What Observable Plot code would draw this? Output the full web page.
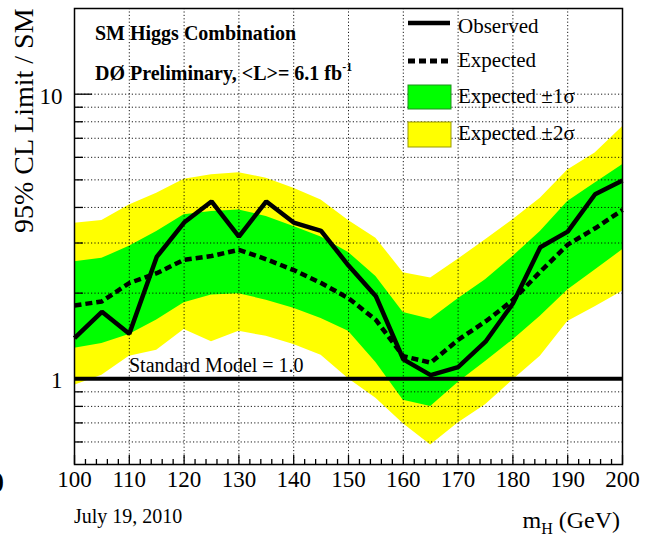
<!DOCTYPE html>
<html>
<head>
<meta charset="utf-8">
<script src="https://cdn.jsdelivr.net/npm/d3@7"></script>
<script src="https://cdn.jsdelivr.net/npm/@observablehq/plot@0.6"></script>
<style>
  html, body { margin: 0; padding: 0; background: #fff; }
  #chart { width: 648px; height: 537px; overflow: hidden; }
</style>
</head>
<body>
<div id="chart"></div>
<script>
// ---- data ----
const masses   = [100,105,110,115,120,125,130,135,140,145,150,155,160,165,170,175,180,185,190,195,200];
const observed = [1.39,1.72,1.44,2.68,3.54,4.20,3.16,4.20,3.54,3.31,2.50,1.95,1.17,1.03,1.10,1.35,1.84,2.90,3.29,4.45,4.97];
const expected = [1.81,1.87,2.17,2.35,2.62,2.70,2.84,2.63,2.41,2.17,1.92,1.61,1.20,1.14,1.37,1.59,1.89,2.38,2.96,3.38,3.92];
const plus1    = [2.58,2.65,2.92,3.29,3.77,3.87,3.92,3.72,3.43,3.15,2.78,2.29,1.71,1.62,1.91,2.23,2.69,3.29,4.20,4.87,5.65];
const minus1   = [1.28,1.33,1.43,1.61,1.85,1.97,1.99,1.89,1.77,1.63,1.47,1.14,0.84,0.80,0.97,1.15,1.37,1.66,2.05,2.41,2.84];
const plus2    = [3.52,3.60,4.08,4.49,5.03,5.21,5.30,5.07,4.67,4.25,3.60,3.12,2.36,2.26,2.63,3.08,3.62,4.31,5.42,6.21,7.68];
const minus2   = [0.95,1.03,1.20,1.26,1.49,1.35,1.47,1.41,1.32,1.21,1.00,0.855,0.695,0.586,0.70,0.81,0.99,1.20,1.59,1.79,2.03];

const xTickLabels = [100,110,120,130,140,150,160,170,180,190,200];
const yTickLabels = [1, 10];
const yGridValues = [0.6,0.7,0.8,0.9,2,3,4,5,6,7,8,9,10];
const smValue = 1;

const legendItems = ["Observed", "Expected", "Expected \u00b11\u03c3", "Expected \u00b12\u03c3"];

// ---- build ----
const rows = masses.map((m, i) => ({m, obs: observed[i], exp: expected[i], p1: plus1[i], m1: minus1[i], p2: plus2[i], m2: minus2[i]}));

const W = 648, H = 537, mL = 74, mR = 26, mT = 8, mB = 73;
const pw = W - mL - mR, ph = H - mT - mB;
const serif = "'Liberation Serif', 'DejaVu Serif', serif";

const minorX = d3.range(100, 201, 2).filter(v => v % 10 !== 0);
const minorY = yGridValues.filter(v => !yTickLabels.includes(v));

const chart = Plot.plot({
  width: W, height: H,
  marginLeft: mL, marginRight: mR, marginTop: mT, marginBottom: mB,
  style: {fontFamily: serif, background: "white", color: "black", overflow: "visible"},
  x: {domain: [100, 200], axis: null},
  y: {type: "log", domain: [0.5, 20], axis: null},
  marks: [
    Plot.areaY(rows, {x: "m", y1: "m2", y2: "p2", fill: "#ffff00"}),
    Plot.areaY(rows, {x: "m", y1: "m1", y2: "p1", fill: "#00ff00"}),
    Plot.ruleX(xTickLabels.slice(1, -1), {x: d => d, stroke: "#000", strokeWidth: 1, strokeDasharray: "1.2,2.2", strokeOpacity: 0.9}),
    Plot.ruleY(yGridValues, {y: d => d, stroke: "#000", strokeWidth: 1, strokeDasharray: "1.2,2.2", strokeOpacity: 0.9}),
    Plot.ruleY([smValue], {y: d => d, stroke: "#000", strokeWidth: 4}),
    Plot.line(rows, {x: "m", y: "exp", stroke: "#000", strokeWidth: 4.5, strokeDasharray: "7,4", strokeLinecap: "butt", strokeLinejoin: "miter"}),
    Plot.line(rows, {x: "m", y: "obs", stroke: "#000", strokeWidth: 4.5, strokeLinecap: "butt", strokeLinejoin: "miter"}),
    Plot.frame({stroke: "#000", strokeWidth: 1.5}),
    Plot.tickX(xTickLabels, {x: d => d, insetTop: ph - 9, stroke: "#000", strokeWidth: 1.3}),
    Plot.tickX(minorX, {x: d => d, insetTop: ph - 5, stroke: "#000", strokeWidth: 1.3}),
    Plot.tickY(yTickLabels, {y: d => d, insetRight: pw - 18, stroke: "#000", strokeWidth: 1.3}),
    Plot.tickY(minorY, {y: d => d, insetRight: pw - 9, stroke: "#000", strokeWidth: 1.3}),
    Plot.text(xTickLabels, {x: d => d, frameAnchor: "bottom", dy: 22, text: d => String(d), fontSize: 23, fill: "#000", fontFamily: serif}),
    Plot.text(yTickLabels, {y: d => d, frameAnchor: "left", dx: -12, dy: 2, textAnchor: "end", text: d => String(d), fontSize: 23, fill: "#000", fontFamily: serif})
  ]
});

document.getElementById("chart").appendChild(chart);

// ---- annotations, legend and titles ----
const svg = d3.select(chart);
const ann = svg.append("g").attr("font-family", serif).attr("fill", "#000").attr("text-anchor", "start");

// y axis title (rotated)
ann.append("text").attr("transform", "translate(33,233) rotate(-90)")
  .attr("font-size", 28).attr("text-anchor", "start").text("95% CL Limit / SM");

// clipped fragment at left edge
ann.append("text").attr("x", 4).attr("y", 492).attr("font-size", 30).attr("font-weight", "bold")
  .attr("text-anchor", "end").text("0");

// header texts
ann.append("text").attr("x", 95).attr("y", 40).attr("font-size", 20).attr("font-weight", "bold")
  .text("SM Higgs Combination");
const dz = ann.append("text").attr("x", 95).attr("y", 80).attr("font-size", 20).attr("font-weight", "bold");
dz.append("tspan").text("D\u00d8 Preliminary, <L>= 6.1 fb");
dz.append("tspan").attr("font-size", 12).attr("dy", -9).text("-1");

// SM label
ann.append("text").attr("x", 129).attr("y", 372).attr("font-size", 20).text("Standard Model = 1.0");

// bottom texts
ann.append("text").attr("x", 74).attr("y", 523).attr("font-size", 20).text("July 19, 2010");
const mh = ann.append("text").attr("x", 620).attr("y", 528).attr("font-size", 24).attr("text-anchor", "end");
mh.append("tspan").text("m");
mh.append("tspan").attr("font-size", 16).attr("dy", 6).text("H");
mh.append("tspan").attr("dy", -6).text(" (GeV)");

// legend
const lg = svg.append("g").attr("font-family", serif).attr("text-anchor", "start");
lg.append("line").attr("x1", 408).attr("x2", 450).attr("y1", 23).attr("y2", 23).attr("stroke", "#000").attr("stroke-width", 4.5).attr("stroke-linecap", "butt");
lg.append("line").attr("x1", 408).attr("x2", 450).attr("y1", 61).attr("y2", 61).attr("stroke", "#000").attr("stroke-width", 5).attr("stroke-linecap", "butt").attr("stroke-dasharray", "7,4");
lg.append("rect").attr("x", 408).attr("y", 85).attr("width", 43).attr("height", 24).attr("fill", "#00ff00").attr("stroke", "#1f8f1f").attr("stroke-width", 1);
lg.append("rect").attr("x", 408).attr("y", 122).attr("width", 43).attr("height", 25).attr("fill", "#ffff00").attr("stroke", "#9a9a00").attr("stroke-width", 1);
const ly = [33, 67, 103, 140];
legendItems.forEach((t, i) => {
  lg.append("text").attr("x", 458).attr("y", ly[i]).attr("font-size", 21).attr("fill", "#000").text(t);
});
</script>
</body>
</html>
